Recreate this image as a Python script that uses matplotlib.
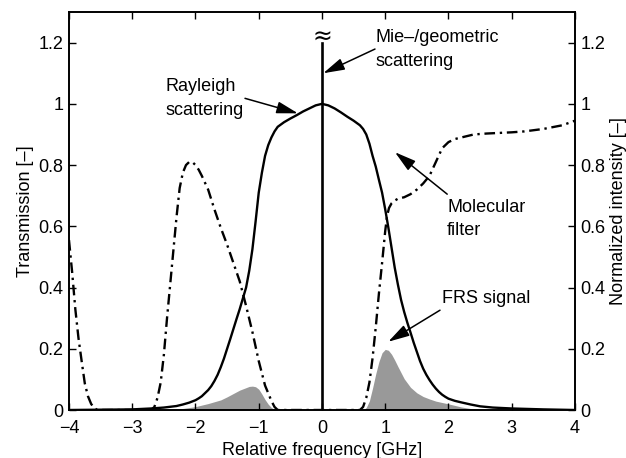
import matplotlib
matplotlib.use("Agg")
import matplotlib.pyplot as plt

plt.rcParams['font.family'] = ['Liberation Sans', 'DejaVu Sans']
plt.rcParams['font.size'] = 13

# Rayleigh scattering spectrum (solid)
ray_x = [-4.0, -3.5, -3.0, -2.7, -2.5, -2.3, -2.2, -2.1, -2.0, -1.95, -1.9, -1.85, -1.8, -1.75,
         -1.7, -1.65, -1.6, -1.55, -1.5, -1.45, -1.4, -1.35, -1.3, -1.25, -1.2, -1.15, -1.1,
         -1.05, -1.0, -0.95, -0.9, -0.85, -0.8, -0.75, -0.7, -0.6, -0.5, -0.4, -0.3, -0.2, -0.1, 0.0,
         0.1, 0.2, 0.3, 0.4, 0.5, 0.6, 0.65, 0.7, 0.75, 0.8, 0.85, 0.9, 0.95, 1.0, 1.05, 1.1, 1.15,
         1.2, 1.25, 1.3, 1.35, 1.4, 1.45, 1.5, 1.55, 1.6, 1.65, 1.7, 1.75, 1.8, 1.85, 1.9, 1.95,
         2.0, 2.1, 2.2, 2.35, 2.5, 2.7, 3.0, 3.5, 4.0]
ray_y = [0.0, 0.001, 0.002, 0.005, 0.008, 0.013, 0.018, 0.024, 0.032, 0.038, 0.045, 0.055, 0.065, 0.078,
         0.095, 0.115, 0.14, 0.168, 0.20, 0.232, 0.265, 0.298, 0.33, 0.365, 0.40, 0.455, 0.525,
         0.615, 0.71, 0.775, 0.83, 0.865, 0.89, 0.91, 0.925, 0.94, 0.952, 0.963, 0.975, 0.985, 0.995, 1.0,
         0.995, 0.985, 0.972, 0.958, 0.945, 0.93, 0.918, 0.9, 0.87, 0.83, 0.795, 0.752, 0.71, 0.655, 0.595, 0.53, 0.465,
         0.41, 0.36, 0.32, 0.285, 0.253, 0.22, 0.19, 0.16, 0.135, 0.115, 0.098, 0.083, 0.07, 0.059, 0.05, 0.043,
         0.037, 0.03, 0.025, 0.018, 0.012, 0.008, 0.005, 0.002, 0.0]

# Molecular filter transmission (dash-dot)
filt_x = [-4.0, -3.95, -3.9, -3.85, -3.8, -3.75, -3.7, -3.65, -3.6, -3.55, -2.7, -2.65, -2.6, -2.55,
          -2.5, -2.45, -2.4, -2.35, -2.3, -2.25, -2.2, -2.15, -2.1, -2.05, -2.0, -1.95, -1.9, -1.8, -1.7,
          -1.6, -1.5, -1.4, -1.3, -1.2, -1.1, -1.0, -0.9, -0.8, -0.75, -0.7, 0.6, 0.65, 0.7, 0.75,
          0.8, 0.85, 0.9, 0.95, 1.0, 1.03, 1.06, 1.1, 1.15, 1.2, 1.3, 1.4, 1.5, 1.6, 1.7, 1.8, 1.9, 2.0, 2.1,
          2.2, 2.4, 2.6, 3.0, 3.2, 3.5, 3.8, 4.0]
filt_y = [0.555, 0.45, 0.33, 0.235, 0.16, 0.087, 0.045, 0.02, 0.006, 0.0, 0.0, 0.01, 0.04, 0.09,
          0.18, 0.30, 0.41, 0.52, 0.63, 0.725, 0.775, 0.80, 0.81, 0.81, 0.80, 0.785, 0.765, 0.72, 0.655,
          0.595, 0.54, 0.48, 0.42, 0.34, 0.255, 0.16, 0.08, 0.03, 0.01, 0.0, 0.0, 0.01, 0.04, 0.09,
          0.17, 0.27, 0.38, 0.48, 0.585, 0.635, 0.66, 0.675, 0.684, 0.69, 0.695, 0.705, 0.72, 0.74, 0.765, 0.81,
          0.855, 0.875, 0.885, 0.89, 0.90, 0.903, 0.907, 0.91, 0.918, 0.93, 0.945]

# FRS signal (grey area)
frs_x = [-2.6, -2.2, -2.0, -1.9, -1.8, -1.7, -1.6, -1.5, -1.4, -1.3, -1.2, -1.15, -1.1, -1.05, -1.0,
         -0.95, -0.9, -0.85, -0.8, -0.75, -0.7, 0.65, 0.7, 0.75, 0.8, 0.85, 0.9, 0.95, 1.0, 1.05,
         1.1, 1.15, 1.2, 1.3, 1.4, 1.5, 1.6, 1.7, 1.8, 2.0, 2.2, 2.4, 2.6]
frs_y = [0.0, 0.005, 0.011, 0.016, 0.021, 0.027, 0.033, 0.043, 0.054, 0.065, 0.073, 0.077, 0.078, 0.076, 0.068,
         0.052, 0.034, 0.019, 0.008, 0.002, 0.0, 0.0, 0.008, 0.03, 0.072, 0.118, 0.158, 0.187, 0.198, 0.195,
         0.182, 0.163, 0.142, 0.102, 0.074, 0.056, 0.044, 0.036, 0.029, 0.02, 0.01, 0.003, 0.0]

# Mie / geometric scattering line
mie_x = [0.0, 0.0]
mie_y = [0.0, 1.2]

xticks = [-4, -3, -2, -1, 0, 1, 2, 3, 4]
yticks = [0, 0.2, 0.4, 0.6, 0.8, 1, 1.2]
ytick_labels = ['0', '0.2', '0.4', '0.6', '0.8', '1', '1.2']
xtick_labels = ['\u22124', '\u22123', '\u22122', '\u22121', '0', '1', '2', '3', '4']

fig = plt.figure(figsize=(6.26, 4.58), dpi=100)
ax = fig.add_axes([0.1102, 0.1048, 0.8083, 0.869])

ax.fill_between(frs_x, 0, frs_y, color='#999999', linewidth=0, zorder=1)
ax.plot(ray_x, ray_y, color='black', lw=1.7, zorder=3)
ax.plot(filt_x, filt_y, color='black', lw=1.7, dashes=[4.5, 2, 1, 2], zorder=3)
ax.plot(mie_x, mie_y, color='black', lw=1.9, zorder=4)
ax.text(0.0, 1.22, '\u2248', ha='center', va='center', fontsize=17, family=['DejaVu Sans'])

ax.set_xlim(-4, 4)
ax.set_ylim(0, 1.3)
ax.set_xticks(xticks)
ax.set_xticklabels(xtick_labels)
ax.set_yticks(yticks)
ax.set_yticklabels(ytick_labels)
ax.tick_params(direction='in', length=5, width=1, top=True, labelsize=13, pad=4)
ax.tick_params(axis='x', pad=7)
ax.set_xlabel('Relative frequency [GHz]', fontsize=13, labelpad=4)
ax.set_ylabel('Transmission [\u2013]', fontsize=13, labelpad=3)
for s in ax.spines.values():
    s.set_linewidth(1.2)

ax2 = ax.twinx()
ax2.set_ylim(0, 1.3)
ax2.set_yticks(yticks)
ax2.set_yticklabels(ytick_labels)
ax2.tick_params(direction='in', length=5, width=1, labelsize=13, pad=4)
ax2.set_ylabel('Normalized intensity [\u2013]', fontsize=13, labelpad=3)
for s in ax2.spines.values():
    s.set_linewidth(1.2)

arrowprops = dict(arrowstyle='-|>,head_length=1.0,head_width=0.28', color='black', lw=1.1,
                  shrinkA=0, shrinkB=0, mutation_scale=13)

ax.text(-2.48, 1.017, 'Rayleigh\nscattering', ha='left', va='center', fontsize=13, linespacing=1.5)
ax.annotate('', xy=(-0.38, 0.969), xytext=(-1.217, 1.018), arrowprops=arrowprops)

ax.text(0.854, 1.178, 'Mie\u2013/geometric\nscattering', ha='left', va='center', fontsize=13,
        linespacing=1.55)
ax.annotate('', xy=(0.02, 1.100), xytext=(0.838, 1.179), arrowprops=arrowprops)

ax.text(1.98, 0.623, 'Molecular\nfilter', ha='left', va='center', fontsize=13, linespacing=1.45)
ax.annotate('', xy=(1.154, 0.842), xytext=(1.98, 0.705), arrowprops=arrowprops)

ax.text(1.89, 0.364, 'FRS signal', ha='left', va='center', fontsize=13)
ax.annotate('', xy=(1.048, 0.223), xytext=(1.866, 0.326), arrowprops=arrowprops)

fig.savefig('out.png', dpi=100)
